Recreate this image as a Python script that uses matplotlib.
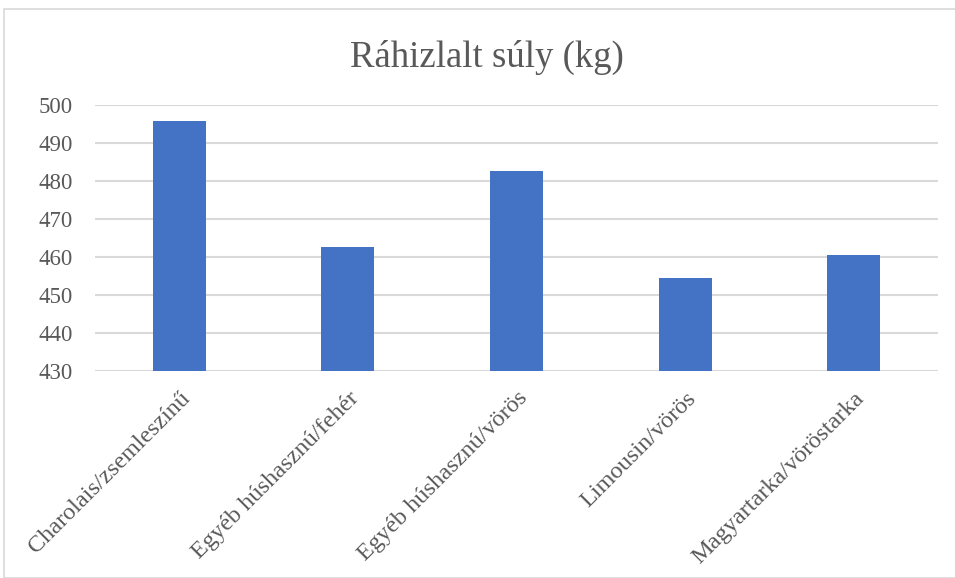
import matplotlib.pyplot as plt
from matplotlib.patches import Rectangle

# Adatok
categories = ['Charolais/zsemleszínű', 'Egyéb húshasznú/fehér', 'Egyéb húshasznú/vörös',
              'Limousin/vörös', 'Magyartarka/vöröstarka']
values = [495.7, 462.7, 482.6, 454.5, 460.6]
yticks = [430, 440, 450, 460, 470, 480, 490, 500]

plt.rcParams['font.family'] = ['Liberation Serif', 'DejaVu Serif']
text_color = '#595959'
grid_color = '#d9d9d9'

fig = plt.figure(figsize=(9.55, 5.78), dpi=100)
ax = fig.add_axes([95 / 955, 1 - 371 / 578, (938 - 95) / 955, (371 - 105) / 578])

ax.bar(range(len(categories)), values, width=0.315, color='#4472C4', zorder=3)

ax.set_xlim(-0.5, len(categories) - 0.5)
ax.set_ylim(430, 500)
ax.set_yticks(yticks)
ax.set_yticklabels([str(t) for t in yticks])
ax.set_xticks(range(len(categories)))
ax.set_xticklabels(categories, rotation=45, ha='right', rotation_mode='anchor')

ax.grid(axis='y', color=grid_color, linewidth=1.5, zorder=0)
for s in ax.spines.values():
    s.set_visible(False)
ax.tick_params(axis='both', length=0, labelcolor=text_color)
ax.tick_params(axis='y', pad=16, labelsize=16.5)
ax.tick_params(axis='x', pad=12, labelsize=17.5)

fig.text(487 / 955, 1 - 57 / 578, 'Ráhizlalt súly (kg)', ha='center', va='center',
         fontsize=26.5, color=text_color)

# keret a diagram körül
fig.patches.append(Rectangle((4 / 955, 0), 1, 1 - 9 / 578, transform=fig.transFigure,
                             fill=False, edgecolor=grid_color, linewidth=1.2))

fig.savefig('out.png', dpi=100)
